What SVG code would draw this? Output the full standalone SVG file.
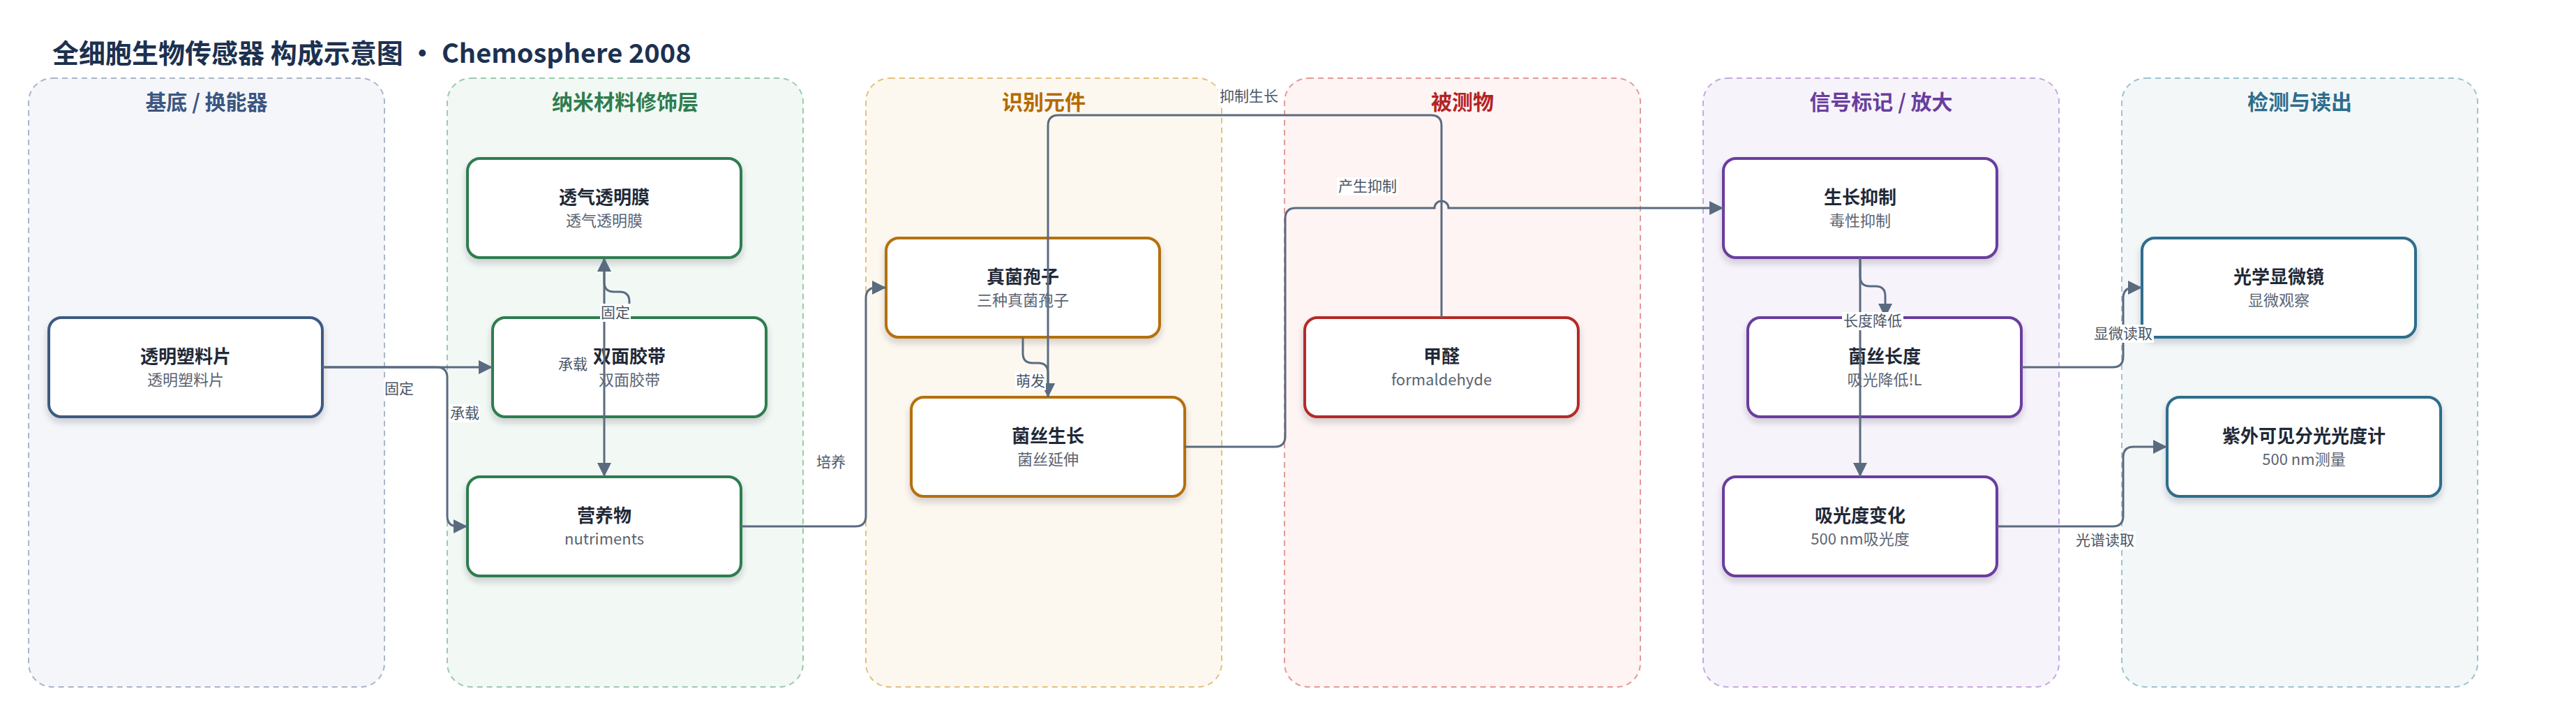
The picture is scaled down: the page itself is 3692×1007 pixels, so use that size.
<svg xmlns="http://www.w3.org/2000/svg" width="3692" height="1007" viewBox="0 0 3692 1007">
<style>
text{font-family:"Noto Sans CJK SC","Noto Sans",sans-serif}
.title{font-size:38px;font-weight:700;fill:#1c3150}
.gt{font-size:30px;font-weight:700;text-anchor:middle}
.grp{stroke-width:2;stroke-dasharray:8 6}
.node rect{fill:#fff;stroke-width:4}
.nt{font-size:26px;font-weight:700;fill:#1f2937;text-anchor:middle}
.ns{font-size:22px;fill:#5b6472;text-anchor:middle}
.edge{fill:none;stroke:#5a6b80;stroke-width:3}
.lb rect{fill:#fff}
.lb text{font-size:21px;fill:#4a5566;text-anchor:middle}
</style>
<defs>
<marker id="arr" viewBox="0 0 20 20" refX="20" refY="10" markerWidth="20" markerHeight="20" markerUnits="userSpaceOnUse" orient="auto">
<path d="M0,0 L20,10 L0,20 z" fill="#5a6b80"/>
</marker>
<filter id="sh" x="-10%" y="-10%" width="120%" height="130%">
<feDropShadow dx="0" dy="6" stdDeviation="5" flood-color="#1e293b" flood-opacity="0.2"/>
</filter>
</defs>
<rect width="3692" height="1007" fill="#fff"/>
<text class="title" x="75" y="90">全细胞生物传感器 构成示意图 • Chemosphere 2008</text>

<g id="groups">
<g id="g_substrate"><rect class="grp" x="41" y="112" width="510" height="872" rx="34" fill="#f5f6fa" stroke="#a9b5c9"/><text class="gt" x="296" y="157" fill="#3b5680">基底 / 换能器</text></g>
<g id="g_nano"><rect class="grp" x="641" y="112" width="510" height="872" rx="34" fill="#f2f8f4" stroke="#9ccaae"/><text class="gt" x="896" y="157" fill="#2e7d4f">纳米材料修饰层</text></g>
<g id="g_recog"><rect class="grp" x="1241" y="112" width="510" height="872" rx="34" fill="#fdf8ef" stroke="#e3c07f"/><text class="gt" x="1496" y="157" fill="#b36b00">识别元件</text></g>
<g id="g_analyte"><rect class="grp" x="1841" y="112" width="510" height="872" rx="34" fill="#fdf4f3" stroke="#e39a97"/><text class="gt" x="2096" y="157" fill="#b42323">被测物</text></g>
<g id="g_signal"><rect class="grp" x="2441" y="112" width="510" height="872" rx="34" fill="#f7f3fb" stroke="#c4aadd"/><text class="gt" x="2696" y="157" fill="#6a3d9e">信号标记 / 放大</text></g>
<g id="g_detect"><rect class="grp" x="3041" y="112" width="510" height="872" rx="34" fill="#f3f7f8" stroke="#9dc2d0"/><text class="gt" x="3296" y="157" fill="#2e6d8c">检测与读出</text></g>
</g>

<g id="nodes">
<g id="n_substrate" class="node"><rect x="70" y="455" width="392" height="142" rx="18" stroke="#3d5a80" filter="url(#sh)"/><text class="nt" x="266" y="520">透明塑料片</text><text class="ns" x="266" y="552">透明塑料片</text></g>
<g id="n_membrane" class="node"><rect x="670" y="227" width="392" height="142" rx="18" stroke="#2e7d4f" filter="url(#sh)"/><text class="nt" x="866" y="292">透气透明膜</text><text class="ns" x="866" y="324">透气透明膜</text></g>
<g id="n_tape" class="node"><rect x="706" y="455" width="392" height="142" rx="18" stroke="#2e7d4f" filter="url(#sh)"/><text class="nt" x="902" y="520">双面胶带</text><text class="ns" x="902" y="552">双面胶带</text></g>
<g id="n_nutrient" class="node"><rect x="670" y="683" width="392" height="142" rx="18" stroke="#2e7d4f" filter="url(#sh)"/><text class="nt" x="866" y="748">营养物</text><text class="ns" x="866" y="780">nutriments</text></g>
<g id="n_spore" class="node"><rect x="1270" y="341" width="392" height="142" rx="18" stroke="#b5700a" filter="url(#sh)"/><text class="nt" x="1466" y="406">真菌孢子</text><text class="ns" x="1466" y="438">三种真菌孢子</text></g>
<g id="n_hypha" class="node"><rect x="1306" y="569" width="392" height="142" rx="18" stroke="#b5700a" filter="url(#sh)"/><text class="nt" x="1502" y="634">菌丝生长</text><text class="ns" x="1502" y="666">菌丝延伸</text></g>
<g id="n_formaldehyde" class="node"><rect x="1870" y="455" width="392" height="142" rx="18" stroke="#b42a26" filter="url(#sh)"/><text class="nt" x="2066" y="520">甲醛</text><text class="ns" x="2066" y="552">formaldehyde</text></g>
<g id="n_inhibit" class="node"><rect x="2470" y="227" width="392" height="142" rx="18" stroke="#6a3d9e" filter="url(#sh)"/><text class="nt" x="2666" y="292">生长抑制</text><text class="ns" x="2666" y="324">毒性抑制</text></g>
<g id="n_length" class="node"><rect x="2505" y="455" width="392" height="142" rx="18" stroke="#6a3d9e" filter="url(#sh)"/><text class="nt" x="2701" y="520">菌丝长度</text><text class="ns" x="2701" y="552">吸光降低!L</text></g>
<g id="n_absorb" class="node"><rect x="2470" y="683" width="392" height="142" rx="18" stroke="#6a3d9e" filter="url(#sh)"/><text class="nt" x="2666" y="748">吸光度变化</text><text class="ns" x="2666" y="780">500 nm吸光度</text></g>
<g id="n_micro" class="node"><rect x="3070" y="341" width="392" height="142" rx="18" stroke="#2e6d8c" filter="url(#sh)"/><text class="nt" x="3266" y="406">光学显微镜</text><text class="ns" x="3266" y="438">显微观察</text></g>
<g id="n_uv" class="node"><rect x="3106" y="569" width="392" height="142" rx="18" stroke="#2e6d8c" filter="url(#sh)"/><text class="nt" x="3302" y="634">紫外可见分光光度计</text><text class="ns" x="3302" y="666">500 nm测量</text></g>
</g>

<g id="connectors">
<path class="edge" marker-end="url(#arr)" d="M462,526 H706"/>
<path class="edge" marker-end="url(#arr)" d="M462,526 H626 Q641,526 641,541 V739 Q641,754 656,754 H670"/>
<path class="edge" marker-end="url(#arr)" d="M902,455 V432 Q902,418 888,418 H880 Q866,418 866,404 V369"/>
<path class="edge" marker-end="url(#arr)" d="M866,369 V683"/>
<path class="edge" marker-end="url(#arr)" d="M1062,754 H1226 Q1241,754 1241,739 V427 Q1241,412 1256,412 H1270"/>
<path class="edge" marker-end="url(#arr)" d="M1466,483 V506 Q1466,520 1480,520 H1488 Q1502,520 1502,534 V569"/>
<path class="edge" marker-end="url(#arr)" d="M2066,455 V180 Q2066,165 2051,165 H1517 Q1502,165 1502,180 V569"/>
<path class="edge" marker-end="url(#arr)" d="M1698,640 H1827 Q1842,640 1842,625 V313 Q1842,298 1857,298 H2056 A10,10 0 0 1 2076,298 H2470"/>
<path class="edge" marker-end="url(#arr)" d="M2666,369 V396 Q2666,410 2680,410 H2688 Q2702,410 2702,424 V455"/>
<path class="edge" marker-end="url(#arr)" d="M2666,369 V683"/>
<path class="edge" marker-end="url(#arr)" d="M2897,526 H3028 Q3043,526 3043,511 V427 Q3043,412 3058,412 H3070"/>
<path class="edge" marker-end="url(#arr)" d="M2862,754 H3028 Q3043,754 3043,739 V655 Q3043,640 3058,640 H3106"/>
</g>

<g id="labels">
<g class="lb"><rect x="550" y="544" width="44" height="26"/><text x="572" y="564">固定</text></g>
<g class="lb"><rect x="644" y="579" width="44" height="26"/><text x="666" y="599">承载</text></g>
<g class="lb"><rect x="860" y="435" width="44" height="26"/><text x="882" y="455">固定</text></g>
<g class="lb"><rect x="799" y="509" width="44" height="26"/><text x="821" y="529">承载</text></g>
<g class="lb"><rect x="1169" y="649" width="44" height="26"/><text x="1191" y="669">培养</text></g>
<g class="lb"><rect x="1455" y="533" width="44" height="26"/><text x="1477" y="553">萌发</text></g>
<g class="lb"><rect x="1746" y="125" width="88" height="26"/><text x="1790" y="145">抑制生长</text></g>
<g class="lb"><rect x="1916" y="254" width="88" height="26"/><text x="1960" y="274">产生抑制</text></g>
<g class="lb"><rect x="2640" y="447" width="88" height="26"/><text x="2684" y="467">长度降低</text></g>
<g class="lb"><rect x="2999" y="465" width="88" height="26"/><text x="3043" y="485">显微读取</text></g>
<g class="lb"><rect x="2973" y="761" width="88" height="26"/><text x="3017" y="781">光谱读取</text></g>
</g>
</svg>
